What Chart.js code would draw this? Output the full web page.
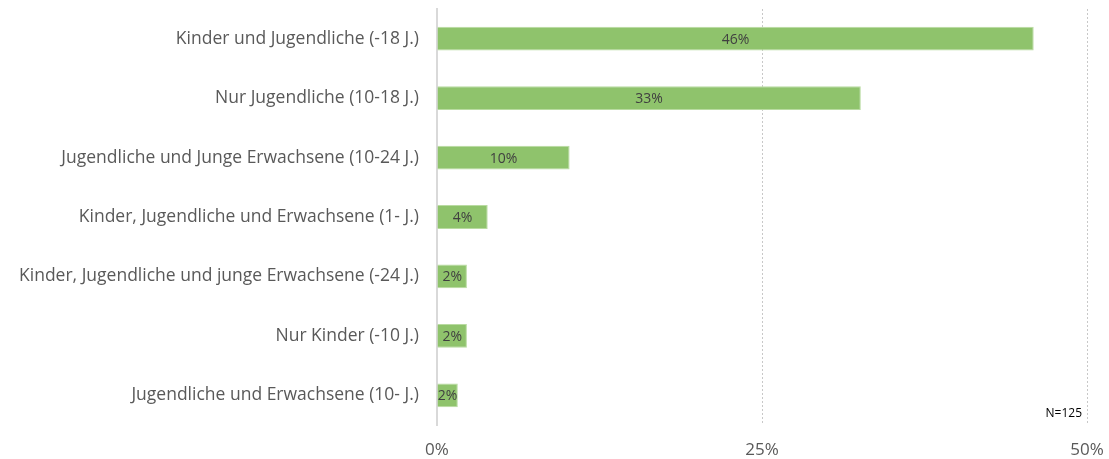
<!DOCTYPE html>
<html>
<head>
<meta charset="utf-8">
<script src="https://cdn.jsdelivr.net/npm/chart.js@4"></script>
<style>
  html, body { margin: 0; padding: 0; background: #fff; }
  #wrap { width: 1109px; height: 459px; }
</style>
</head>
<body>
<div id="wrap"><canvas id="zielgruppen"></canvas></div>
<script>
var kategorien = [
	'Kinder und Jugendliche (-18 J.)',
	'Nur Jugendliche (10-18 J.)',
	'Jugendliche und Junge Erwachsene (10-24 J.)',
	'Kinder, Jugendliche und Erwachsene (1- J.)',
	'Kinder, Jugendliche und junge Erwachsene (-24 J.)',
	'Nur Kinder (-10 J.)',
	'Jugendliche und Erwachsene (10- J.)'
];
// Anteile in Prozent (N=125)
var anteile = [45.9, 32.6, 10.2, 3.9, 2.3, 2.3, 1.6];
var xTicks = [0, 25, 50];
var stichprobe = 'N=125';

var schrift = '"Open Sans", Lato, sans-serif';

// Wertbeschriftung mittig im Balken + N-Angabe unten rechts
var beschriftung = {
	id: 'beschriftung',
	afterDatasetsDraw: function (chart) {
		var ctx = chart.ctx;
		var meta = chart.getDatasetMeta(0);
		ctx.save();
		ctx.font = '14px ' + schrift;
		ctx.fillStyle = '#404040';
		ctx.textAlign = 'center';
		ctx.textBaseline = 'middle';
		meta.data.forEach(function (bar, i) {
			var mitte = (bar.x + bar.base) / 2;
			ctx.fillText(Math.round(anteile[i]) + '%', mitte, bar.y + 1);
		});
		var area = chart.chartArea;
		ctx.font = '12px ' + schrift;
		ctx.fillStyle = '#000';
		ctx.textAlign = 'right';
		ctx.textBaseline = 'alphabetic';
		ctx.fillText(stichprobe, area.right - 5, area.bottom - 8);
		ctx.restore();
	}
};

// Achsen ohne automatische Randabstände, der Rand kommt aus layout.padding
function ohneRand(scale) {
	scale.paddingTop = 0;
	scale.paddingBottom = 0;
	scale.paddingLeft = 0;
	scale.paddingRight = 0;
}

var context = document.getElementById('zielgruppen').getContext('2d');
var chart = new Chart(context, {
	type: 'bar',
	data: {
		labels: kategorien,
		datasets: [{
			data: anteile,
			backgroundColor: '#8fc36c',
			borderColor: '#b9dba1',
			borderWidth: 1,
			borderSkipped: 'left',
			barPercentage: 0.4,
			categoryPercentage: 1
		}]
	},
	plugins: [beschriftung],
	options: {
		indexAxis: 'y',
		responsive: true,
		maintainAspectRatio: false,
		animation: false,
		layout: { padding: { top: 9, right: 22, bottom: 0, left: 0 } },
		plugins: {
			legend: { display: false },
			tooltip: { enabled: false }
		},
		scales: {
			x: {
				min: 0,
				max: 50,
				afterBuildTicks: function (scale) {
					scale.ticks = xTicks.map(function (v) { return { value: v }; });
				},
				afterFit: function (scale) { scale.height = 34; ohneRand(scale); },
				grid: {
					drawTicks: false,
					color: function (c) { return c.tick && c.tick.value === 0 ? 'rgba(0,0,0,0)' : '#c8c8c8'; },
					lineWidth: 1
				},
				border: { display: false, dash: [2, 2] },
				ticks: {
					padding: 15,
					color: '#595959',
					font: { family: schrift, size: 17 },
					callback: function (v) { return v + '%'; }
				}
			},
			y: {
				afterFit: function (scale) { scale.width = 437; ohneRand(scale); },
				grid: { display: false, drawTicks: false },
				border: { display: true, color: '#d9d9d9', width: 2 },
				ticks: {
					padding: 18,
					color: '#595959',
					font: { family: schrift, size: 17.5 }
				}
			}
		}
	}
});
</script>
</body>
</html>
